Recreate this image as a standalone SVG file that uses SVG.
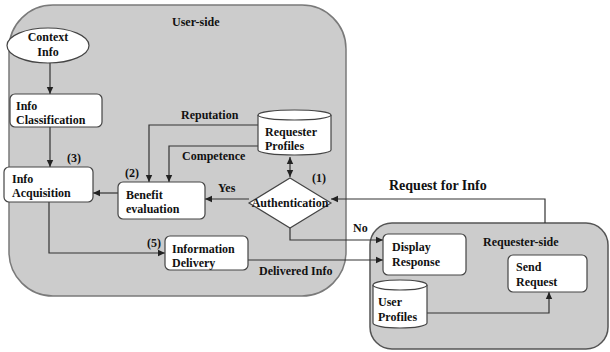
<svg xmlns="http://www.w3.org/2000/svg" width="610" height="352" viewBox="0 0 610 352">
  <style>
    .region { fill: #cccccc; stroke: #7a7a7a; stroke-width: 1.5; }
    .region2 { fill: #cccccc; stroke: #555555; stroke-width: 1.5; }
    .node { fill: #ffffff; stroke: #444444; stroke-width: 1.2; }
    .edge { fill: none; stroke: #333333; stroke-width: 1.2; }
    text { font-family: "Liberation Serif", "Times New Roman", serif; font-weight: bold; font-size: 12px; fill: #111111; }
    .big { font-size: 14px; }
    .mid { text-anchor: middle; }
  </style>
  <defs>
    <marker id="arrow" markerWidth="8" markerHeight="8" refX="7" refY="4" orient="auto" markerUnits="userSpaceOnUse">
      <path d="M0,0.8 L7,4 L0,7.2 Z" fill="#222222"/>
    </marker>
    <marker id="arrowStart" markerWidth="8" markerHeight="8" refX="1" refY="4" orient="auto" markerUnits="userSpaceOnUse">
      <path d="M8,0.8 L1,4 L8,7.2 Z" fill="#222222"/>
    </marker>
  </defs>

  <!-- regions -->
  <g id="user-side">
    <rect class="region" x="9" y="5" width="337" height="291" rx="44" ry="44"/>
    <text x="172" y="26">User-side</text>
  </g>
  <g id="requester-side">
    <rect class="region2" x="370" y="223" width="238" height="126" rx="22" ry="22"/>
    <text x="483" y="246">Requester-side</text>
  </g>

  <!-- connectors -->
  <g id="connectors">
    <path class="edge" d="M50,63 L50,94" marker-end="url(#arrow)"/>
    <path class="edge" d="M50,127 L50,167" marker-end="url(#arrow)"/>
    <path class="edge" d="M118,193 L93,193" marker-end="url(#arrow)"/>
    <path class="edge" d="M258,125 L149,125 L149,182" marker-end="url(#arrow)"/>
    <path class="edge" d="M258,146 L169,146 L169,182" marker-end="url(#arrow)"/>
    <path class="edge" d="M290,157 L290,177" marker-start="url(#arrowStart)" marker-end="url(#arrow)"/>
    <path class="edge" d="M249,199 L205,199" marker-end="url(#arrow)"/>
    <path class="edge" d="M545,223 L545,199 L331,199" marker-end="url(#arrow)"/>
    <path class="edge" d="M290,228 L290,240 L383,240" marker-end="url(#arrow)"/>
    <path class="edge" d="M49,202 L49,253 L165,253" marker-end="url(#arrow)"/>
    <path class="edge" d="M248,260 L383,260" marker-end="url(#arrow)"/>
    <path class="edge" d="M427,313 L549,313 L549,292" marker-end="url(#arrow)"/>
    <text x="181" y="119">Reputation</text>
    <text x="182" y="160">Competence</text>
    <text x="218" y="192">Yes</text>
    <text x="353" y="232">No</text>
    <text class="big" x="389" y="190">Request for Info</text>
    <text x="259" y="275">Delivered Info</text>
    <text x="67" y="162">(3)</text>
    <text x="125" y="177">(2)</text>
    <text x="312" y="182">(1)</text>
    <text x="147" y="247">(5)</text>
  </g>

  <!-- nodes -->
  <g id="context-info">
    <ellipse class="node" cx="48" cy="45.5" rx="41" ry="17.5"/>
    <text class="mid" x="48" y="41">Context</text>
    <text class="mid" x="48" y="56">Info</text>
  </g>
  <g id="info-classification">
    <rect class="node" x="10" y="94" width="92" height="33" rx="5"/>
    <text x="16" y="110">Info</text>
    <text x="16" y="124">Classification</text>
  </g>
  <g id="info-acquisition">
    <rect class="node" x="4" y="167" width="89" height="35" rx="5"/>
    <text x="12" y="183">Info</text>
    <text x="12" y="197">Acquisition</text>
  </g>
  <g id="benefit-evaluation">
    <rect class="node" x="118" y="182" width="87" height="37" rx="5"/>
    <text x="126" y="199">Benefit</text>
    <text x="126" y="213">evaluation</text>
  </g>
  <g id="requester-profiles">
    <path class="node" d="M258,115 L258,150 A36.5,5 0 0 0 331,150 L331,115"/>
    <ellipse class="node" cx="294.5" cy="115" rx="36.5" ry="5"/>
    <text x="265" y="136">Requester</text>
    <text x="265" y="150">Profiles</text>
  </g>
  <g id="authentication">
    <polygon class="node" points="290,178 331,203 290,228 249,203"/>
    <text class="mid" x="290" y="207">Authentication</text>
  </g>
  <g id="information-delivery">
    <rect class="node" x="165" y="236" width="83" height="34" rx="5"/>
    <text x="172" y="253">Information</text>
    <text x="172" y="267">Delivery</text>
  </g>
  <g id="display-response">
    <rect class="node" x="383" y="234" width="83" height="41" rx="5"/>
    <text x="392" y="251">Display</text>
    <text x="392" y="266">Response</text>
  </g>
  <g id="send-request">
    <rect class="node" x="508" y="255" width="79" height="37" rx="5"/>
    <text x="516" y="271">Send</text>
    <text x="516" y="286">Request</text>
  </g>
  <g id="user-profiles">
    <path class="node" d="M373,285 L373,323 A27,5 0 0 0 427,323 L427,285"/>
    <ellipse class="node" cx="400" cy="285" rx="27" ry="5"/>
    <text x="378" y="306">User</text>
    <text x="378" y="321">Profiles</text>
  </g>
</svg>
